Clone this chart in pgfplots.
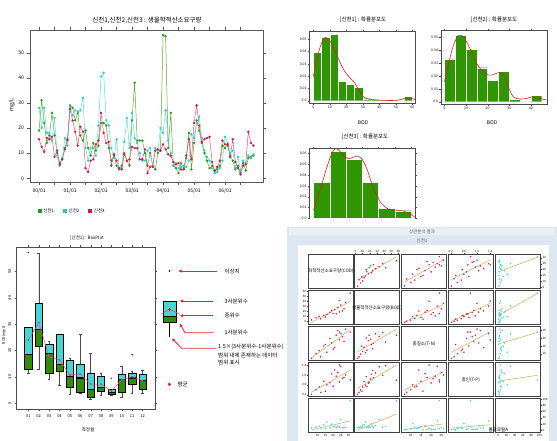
\documentclass[border=0pt]{standalone}
\usepackage{fontspec}
\setmainfont{Noto Sans CJK KR}
\usepackage{pgfplots}
\pgfplotsset{compat=1.18}
\usepackage{pgfplotstable}
\usepgfplotslibrary{statistics}
\usetikzlibrary{arrows.meta}
\pgfkeys{/pgf/number format/assume math mode=true}
\newcommand{\fs}[1]{\fontsize{#1}{#1}\selectfont}

\definecolor{tsg}{RGB}{40,150,30}
\definecolor{tsgl}{RGB}{100,165,50}
\definecolor{tsc}{RGB}{40,205,195}
\definecolor{tscl}{RGB}{90,225,215}
\definecolor{tsr}{RGB}{220,20,60}
\definecolor{tsrl}{RGB}{235,80,120}
\definecolor{hgreen}{RGB}{46,150,0}
\definecolor{hred}{RGB}{220,30,40}
\definecolor{bcyan}{RGB}{72,214,210}
\definecolor{bgreen}{RGB}{50,140,10}
\definecolor{pblue}{RGB}{221,231,242}
\definecolor{pband}{RGB}{233,240,248}
\definecolor{regl}{RGB}{190,180,90}
\definecolor{sred}{RGB}{225,20,60}
\definecolor{scyan}{RGB}{60,210,210}
\definecolor{arr}{RGB}{225,40,50}

\pgfplotstableread{
t g c r
0 19 28 15.5
1 31 20 12.5
2 22 28 10.5
3 14 18 16
4 17 18 15.5
5 26 15 16.5
6 17 24 8.5
7 10 9 11
8 6 5 5.5
9 8 8 7.5
10 12 16 11.5
11 15 13 15.5
12 29 28.5 27.5
13 28 25 23
14 23 27 18.5
15 26 26.5 13
16 17 27 20.5
17 15 32 18.5
18 19 12 4
19 12 7 2.5
20 9 12 7
21 14 12 7.5
22 11 9 13.5
23 13 21 15
24 22 40.5 26
25 22 42 18
26 21 23 14
27 12 21 14.5
28 7 12 5
29 9 8 9.5
30 5 15.5 7
31 3.5 4 4
32 5 4 3.5
33 10 14.5 9.5
34 7 24 7
35 5 12 7.5
36 23 26 12.5
37 38 16 12
38 15 14 12
39 15 10 7.5
40 15 7 7.5
41 10 7 11.5
42 5 11 2
43 10 12 4.5
44 5 5 4.5
45 3.5 12 11
46 10 11 11.5
47 11 20 11
48 57 18 13.5
49 56.5 27 11.5
50 12 15 9.5
51 26 10 9
52 5 5 6.5
53 4 6 5.5
54 2 4 6
55 6 4.5 3.5
56 4 5 3.5
57 8 4.5 9
58 18 7 15.5
59 3.5 17.5 7.5
60 14 16 22
61 23 22 29
62 19 24.5 21
63 14 16 14.5
64 10 11 15.5
65 7 8.5 16
66 4 7 16.5
67 5 4 6.5
68 3 2 3
69 3.5 2.5 4.5
70 5 4 7
71 13 7 15
72 12 16.5 13.5
73 13 14 13.5
74 9 10 8.5
75 7 11 15.5
76 3.5 4 6.5
77 5 8.5 4
78 2 3 1.5
79 6 7 5
80 3 6 5.5
81 8 9 18.5
82 8.5 8 14
83 9 9.5 13
}\tsdata

\pgfplotstableread{
COD BOD TN TP CHLA
6 3 7 0.22 2
9 7 10 0.40 5
12 5 8 0.30 3
11 10 12 0.52 8
15 9 16 0.35 1
16 14 11 0.60 22
14 12 15 0.75 12
20 16 13 0.55 6
18 18 20 0.68 2
22 15 22 0.95 3
19 22 17 1.05 15
24 19 24 0.72 5
21 24 14 1.20 7
26 21 21 0.85 3
23 28 25 1.10 9
27 25 18 0.90 2
25 33 23 1.35 30
28 38 26 1.00 4
24 42 19 1.40 6
31 57 24 0.80 95
}\scat

\pgfplotsset{
 histax/.style={scale only axis, anchor=south west, tick align=outside,
   axis line style={gray!60!black}, tick style={gray!60!black}, major tick length=1.5pt,
   ticklabel style={font=\fs{3.5}, inner sep=1pt},
   ytick={0,0.01,0.02,0.03,0.04,0.05}, yticklabels={0.0,0.01,0.02,0.03,0.04,0.05}, scaled y ticks=false},
 cellax/.style={scale only axis, anchor=south west, width=45pt, height=34pt, enlargelimits=0.08,
   xtick=\empty, ytick=\empty, axis line style={gray!50!black, line width=0.6pt},
   tick style={gray!50!black, line width=0.3pt}, major tick length=1.2pt, tick align=outside,
   ticklabel style={font=\fs{3}, inner sep=0.6pt}},
}

\newcommand{\cell}[6]{%
\begin{axis}[cellax, at={(#1pt,#2pt)}, #6]
\addplot[only marks, mark=*, mark size=0.5pt, color=#5] table[x=#3,y=#4]{\scat};
\addplot[regl, line width=0.5pt, no marks] table[x=#3, y={create col/linear regression={x=#3,y=#4}}]{\scat};
\end{axis}}

\newcommand{\diag}[4]{%
\begin{axis}[cellax, at={(#1pt,#2pt)}, xmin=0, xmax=1, ymin=0, ymax=1, enlargelimits=false, clip=false, #4]
\node[font=\fs{4.5}] at (axis cs:0.5,0.5) {#3};
\end{axis}}

\newcommand{\bp}[6]{%
\addplot[fill=bcyan, draw=black, line width=0.4pt, boxplot prepared={draw position=#1, lower whisker=#2, lower quartile=#3, median=#4, upper quartile=#5, upper whisker=#6, box extend=0.7, whisker extend=0.25}] coordinates {};
\addplot[fill=bgreen, draw=black, line width=0.4pt, boxplot prepared={draw position=#1, lower whisker=#3, lower quartile=#3, median=#4, upper quartile=#4, upper whisker=#4, box extend=0.7, whisker extend=0}] coordinates {};
}

\begin{document}
\begin{tikzpicture}
\useasboundingbox (0,0) rectangle (557pt,441pt);

% ---------------- time series ----------------
\begin{axis}[scale only axis, anchor=south west, at={(30pt,258.5pt)}, width=233pt, height=152.5pt,
 xmin=-3.5, xmax=86.7, ymin=-1.7, ymax=59,
 xtick={0,6,...,78}, xticklabels={00/01,,01/01,,02/01,,03/01,,04/01,,05/01,,06/01,{}},
 ytick={0,10,...,50},
 tick align=outside, axis line style={gray!70!black}, tick style={gray!70!black}, major tick length=2.5pt,
 ticklabel style={font=\fs{5}},
 legend style={at={(0.02,-0.187)}, anchor=west, draw=none, fill=none, font=\fs{4.5}, legend columns=3,
   /tikz/every even column/.append style={column sep=7pt}},
]
\addplot[tsgl, line width=0.5pt, mark=*, mark size=0.9pt, mark options={draw=tsg, fill=tsg},
  legend image code/.code={\fill[tsg] (0pt,-1.6pt) rectangle (3pt,1.6pt);}] table[x=t,y=g]{\tsdata};
\addlegendentry{신천1}
\addplot[tscl, line width=0.5pt, mark=*, mark size=0.9pt, mark options={draw=tsc, fill=tsc},
  legend image code/.code={\fill[tsc] (0pt,-1.6pt) rectangle (3pt,1.6pt);}] table[x=t,y=c]{\tsdata};
\addlegendentry{신천2}
\addplot[tsrl, line width=0.5pt, mark=*, mark size=0.9pt, mark options={draw=tsr, fill=tsr},
  legend image code/.code={\fill[tsr] (0pt,-1.6pt) rectangle (3pt,1.6pt);}] table[x=t,y=r]{\tsdata};
\addlegendentry{신천3}
\end{axis}
\node[font=\fs{6.5}] at (147pt,421pt) {신천1,신천2,신천3 : 생물학적산소요구량};
\node[rotate=90, font=\fs{5.5}] at (12pt,336pt) {mg/L};

% ---------------- histograms ----------------
\begin{axis}[histax, at={(309.3pt,337.7pt)}, width=105.7pt, height=71.6pt,
 xmin=-2.4, xmax=61.6, ymin=-0.0021, ymax=0.0562, xtick={0,10,...,60}]
\addplot[ybar interval, fill=hgreen, draw=white, line width=0.4pt] coordinates {
(0,0.0394)(5,0.0516)(10,0.054)(15,0.0158)(20,0.0133)(25,0.0109)(30,0.0016)(35,0.001)(40,0)(45,0)(50,0)(55,0.0035)(60,0)};
\addplot[hred, line width=0.6pt, smooth] coordinates {
(0,0.0196)(2,0.032)(4,0.043)(6,0.050)(7.5,0.0515)(9,0.0505)(11,0.047)(13,0.041)(15,0.035)(17,0.029)(19,0.024)(21,0.0205)(23,0.0175)(25,0.0145)(27,0.010)(29,0.0055)(31,0.0025)(34,0.0012)(38,0.0007)(42,0.0003)(48,0.0002)(52,0.0006)(55,0.0018)(57,0.0026)(59,0.0022)(61.5,0.0008)};
\end{axis}
\node[font=\fs{5.5}] at (363pt,421pt) {[신천1] : 확률분포도};
\node[font=\fs{5}] at (363pt,318pt) {BOD};

\begin{axis}[histax, at={(440.7pt,336.7pt)}, width=106pt, height=73.6pt,
 xmin=-1.7, xmax=47.3, ymin=-0.002, ymax=0.0552, xtick={0,10,...,40}]
\addplot[ybar interval, fill=hgreen, draw=white, line width=0.4pt] coordinates {
(0,0.0332)(5,0.0518)(10,0.0407)(15,0.0264)(20,0.0168)(25,0.0238)(30,0.002)(35,0)(40,0.0047)(45,0)};
\addplot[hred, line width=0.6pt, smooth] coordinates {
(0,0.0155)(2,0.030)(4.2,0.044)(6.5,0.0513)(8.8,0.0505)(11.8,0.0415)(14.9,0.0298)(17.2,0.0246)(19.5,0.0212)(21.8,0.0207)(24.9,0.0225)(27.2,0.0212)(29.5,0.0117)(31.8,0.0039)(34.9,0.0021)(38,0.0026)(41,0.0039)(44.2,0.0026)(47.2,0.0013)};
\end{axis}
\node[font=\fs{5.5}] at (494pt,421pt) {[신천2] : 확률분포도};
\node[font=\fs{5}] at (492pt,318pt) {BOD};

\begin{axis}[histax, at={(309.3pt,220.5pt)}, width=105.7pt, height=72.2pt,
 xmin=-1.3, xmax=31.2, ymin=-0.002, ymax=0.0645, xtick={0,5,...,30},
 ytick={0,0.01,0.02,0.03,0.04,0.05,0.06}, yticklabels={0.0,0.01,0.02,0.03,0.04,0.05,0.06}]
\addplot[ybar interval, fill=hgreen, draw=white, line width=0.4pt] coordinates {
(0,0.0329)(5,0.0616)(10,0.054)(15,0.033)(20,0.0091)(25,0.007)(30,0)};
\addplot[hred, line width=0.6pt, smooth] coordinates {
(0,0.0076)(1.5,0.0213)(2.6,0.032)(4.1,0.047)(5.6,0.0595)(6.6,0.064)(7.7,0.063)(9.2,0.058)(10.7,0.0549)(12.3,0.0564)(13.5,0.0573)(14.8,0.0549)(16.4,0.0457)(17.9,0.032)(19.4,0.0213)(20.9,0.0137)(23,0.0085)(25,0.0076)(27.6,0.0067)(29.7,0.004)(31.2,0.0009)};
\end{axis}
\node[font=\fs{5.5}] at (365pt,304pt) {[신천3] : 확률분포도};
\fill[white] (280pt,200pt) rectangle (440pt,222.2pt);

% ---------------- boxplot ----------------
\begin{axis}[scale only axis, anchor=south west, at={(16.7pt,32pt)}, width=138.3pt, height=161.7pt,
 xmin=-0.12, xmax=13.2, ymin=-2.16, ymax=59.2,
 xtick={1,...,12}, xticklabels={01,02,03,04,05,06,07,08,09,10,11,12},
 ytick={0,10,...,50}, yticklabel style={rotate=90},
 tick align=outside, ticklabel style={font=\fs{4}}, major tick length=2pt,
 axis line style={gray!60!black}, tick style={gray!60!black},
 boxplot/draw direction=y,
 boxplot/every median/.style={line width=1.1pt},
 boxplot/every whisker/.style={gray!60!black, line width=0.4pt}]
\bp{1}{11.6}{12.9}{18.6}{28.7}{28.7}
\bp{2}{12.9}{21.8}{28.1}{38}{57}
\bp{3}{9.1}{11.4}{19}{22.5}{23.4}
\bp{4}{7}{12.3}{14.8}{26.2}{26.2}
\bp{5}{3.4}{6.3}{10.1}{16.2}{17.3}
\bp{6}{3.8}{4.2}{9.7}{14.9}{26.2}
\bp{7}{1.5}{2.2}{5.4}{11.6}{19}
\bp{8}{3.2}{4.7}{6.1}{10.1}{11.6}
\bp{9}{2.9}{3.3}{4.1}{5.3}{5.3}
\bp{10}{2.5}{4.4}{9.1}{11.1}{14.2}
\bp{11}{3.8}{7.3}{9.7}{11.6}{12}
\bp{12}{3.8}{5.3}{8.6}{11}{12.7}
\addplot[tsrl, line width=0.5pt, mark=*, mark size=0.7pt, mark options={fill=violet!70, draw=violet!70}] coordinates {
(1,24)(2,30.6)(3,17.7)(4,16.5)(5,10.8)(6,11.1)(7,7.3)(8,7.3)(9,4.7)(10,8.9)(11,10.1)(12,8.5)};
\addplot[only marks, mark=*, mark size=0.45pt, black] coordinates {(1,57.2)(11,18.4)};
\addplot[only marks, mark=*, mark size=0.5pt, magenta] coordinates {(9,9.5)};
\end{axis}
\node[font=\fs{4.5}] at (87pt,203pt) {[신천1] : BoxPlot};
\node[font=\fs{4.5}] at (88pt,11pt) {측정월};
\node[rotate=90, font=\fs{3.5}] at (4pt,106pt) {BOD(mg/L)};

% legend sample
\begin{axis}[scale only axis, anchor=south west, at={(159pt,46pt)}, width=20pt, height=135pt,
 xmin=159, xmax=179, ymin=46, ymax=181, hide axis, clip=false,
 boxplot/draw direction=y, boxplot/every median/.style={line width=1.2pt},
 boxplot/every whisker/.style={black, line width=0.5pt}]
\addplot[fill=bcyan, draw=black, line width=0.5pt, boxplot prepared={draw position=169.5, lower whisker=103.7, lower quartile=118.3, median=124.3, upper quartile=139.3, upper whisker=139.3, box extend=13, whisker extend=0}] coordinates {};
\addplot[fill=bgreen, draw=black, line width=0.5pt, boxplot prepared={draw position=169.5, lower whisker=118.3, lower quartile=118.3, median=124.3, upper quartile=124.3, upper whisker=124.3, box extend=13, whisker extend=0}] coordinates {};
\addplot[tsrl, line width=0.6pt] coordinates {(160.7,126.7)(170,131.7)(180,126.7)};
\addplot[only marks, mark=*, mark size=1pt, color=tsr] coordinates {(169.5,131.5)};
\addplot[only marks, mark=*, mark size=0.5pt, black] coordinates {(169.5,170)};
\addplot[only marks, mark=*, mark size=1.4pt, color=arr] coordinates {(169.3,56.7)};
\end{axis}
\begin{scope}[arr, line width=0.8pt, -{Triangle[length=3pt,width=3pt]}]
\draw (216.7pt,170pt) -- (178.5pt,170pt);
\draw (213pt,140pt) -- (180pt,140pt);
\draw (213pt,125.3pt) -- (180pt,125.3pt);
\draw (213.3pt,108.3pt) -- (185pt,108.3pt) -- (180pt,117pt);
\draw (216.7pt,92.7pt) -- (181.7pt,92.7pt) -- (172pt,102.5pt);
\end{scope}
\begin{scope}[font=\fs{5.5}]
\node[anchor=west] at (221pt,170pt) {이상치};
\node[anchor=west] at (221pt,140pt) {3사분위수};
\node[anchor=west] at (221pt,125.3pt) {중위수};
\node[anchor=west] at (221pt,108.3pt) {1사분위수};
\node[anchor=north west, align=left, inner sep=0pt, font=\fs{5.5}] at (218pt,97pt) {1.5×(3사분위수-1사분위수)\\[1.8pt]범위 내에 존재하는 데이터\\[1.8pt]범위 표시};
\node[anchor=west] at (174pt,56.7pt) {평균};
\end{scope}

% ---------------- scatter matrix panel ----------------
\fill[pblue] (287pt,0pt) rectangle (557pt,214pt);
\fill[pband] (289pt,205.5pt) rectangle (555pt,213pt);
\node[font=\fs{4.5}, text=gray!70!black] at (422pt,209.5pt) {상관분석 결과};
\node[font=\fs{4.5}, text=gray!70!black] at (422pt,200pt) {신천1};
\fill[white] (298pt,0pt) rectangle (549pt,196pt);

% row 1 (y = COD)
\diag{308.3}{152.7}{화학적산소요구량(COD)}{}
\cell{354.5}{152.7}{BOD}{COD}{sred}{xtick={0,10,...,60}, xtick pos=right, xticklabel pos=right}
\cell{401.5}{152.7}{TN}{COD}{sred}{}
\cell{448.3}{152.7}{TP}{COD}{sred}{xtick={0.2,0.6,1.0,1.4}, xtick pos=right, xticklabel pos=right, xticklabel style={/pgf/number format/fixed, /pgf/number format/fixed zerofill, /pgf/number format/precision=1}}
\cell{495.5}{152.7}{CHLA}{COD}{scyan}{ytick={5,10,...,30}, ytick pos=right, yticklabel pos=right}
% row 2 (y = BOD)
\cell{308.3}{116.3}{COD}{BOD}{sred}{ytick={0,10,...,60}, ytick pos=left, yticklabel pos=left}
\diag{354.5}{116.3}{생물학적산소요구량(BOD)}{}
\cell{401.5}{116.3}{TN}{BOD}{sred}{}
\cell{448.3}{116.3}{TP}{BOD}{sred}{}
\cell{495.5}{116.3}{CHLA}{BOD}{scyan}{}
% row 3 (y = TN)
\cell{308.3}{80.3}{COD}{TN}{sred}{}
\cell{354.5}{80.3}{BOD}{TN}{sred}{}
\diag{401.5}{80.3}{총질소(T-N)}{}
\cell{448.3}{80.3}{TP}{TN}{sred}{}
\cell{495.5}{80.3}{CHLA}{TN}{scyan}{ytick={10,15,20,25}, ytick pos=right, yticklabel pos=right}
% row 4 (y = TP)
\cell{308.3}{44.3}{COD}{TP}{sred}{ytick={0.2,0.6,1.0,1.4}, ytick pos=left, yticklabel pos=left, yticklabel style={/pgf/number format/fixed, /pgf/number format/fixed zerofill, /pgf/number format/precision=1}}
\cell{354.5}{44.3}{BOD}{TP}{sred}{}
\cell{401.5}{44.3}{TN}{TP}{sred}{}
\diag{448.3}{44.3}{총인(T-P)}{}
\cell{495.5}{44.3}{CHLA}{TP}{scyan}{}
% row 5 (y = CHLA)
\cell{308.3}{8.7}{COD}{CHLA}{scyan}{xtick={10,15,20,25,30}, xtick pos=left, xticklabel pos=left}
\cell{354.5}{8.7}{BOD}{CHLA}{scyan}{}
\cell{401.5}{8.7}{TN}{CHLA}{scyan}{xtick={10,15,20,25}, xtick pos=left, xticklabel pos=left}
\cell{448.3}{8.7}{TP}{CHLA}{scyan}{}
\diag{495.5}{8.7}{클로로필A}{xmin=-6.5, xmax=102.5, ymin=-6.5, ymax=102.5, xtick={0,20,...,100}, ytick={0,20,...,100}, xtick pos=left, xticklabel pos=left, ytick pos=right, yticklabel pos=right}
\end{tikzpicture}
\end{document}
